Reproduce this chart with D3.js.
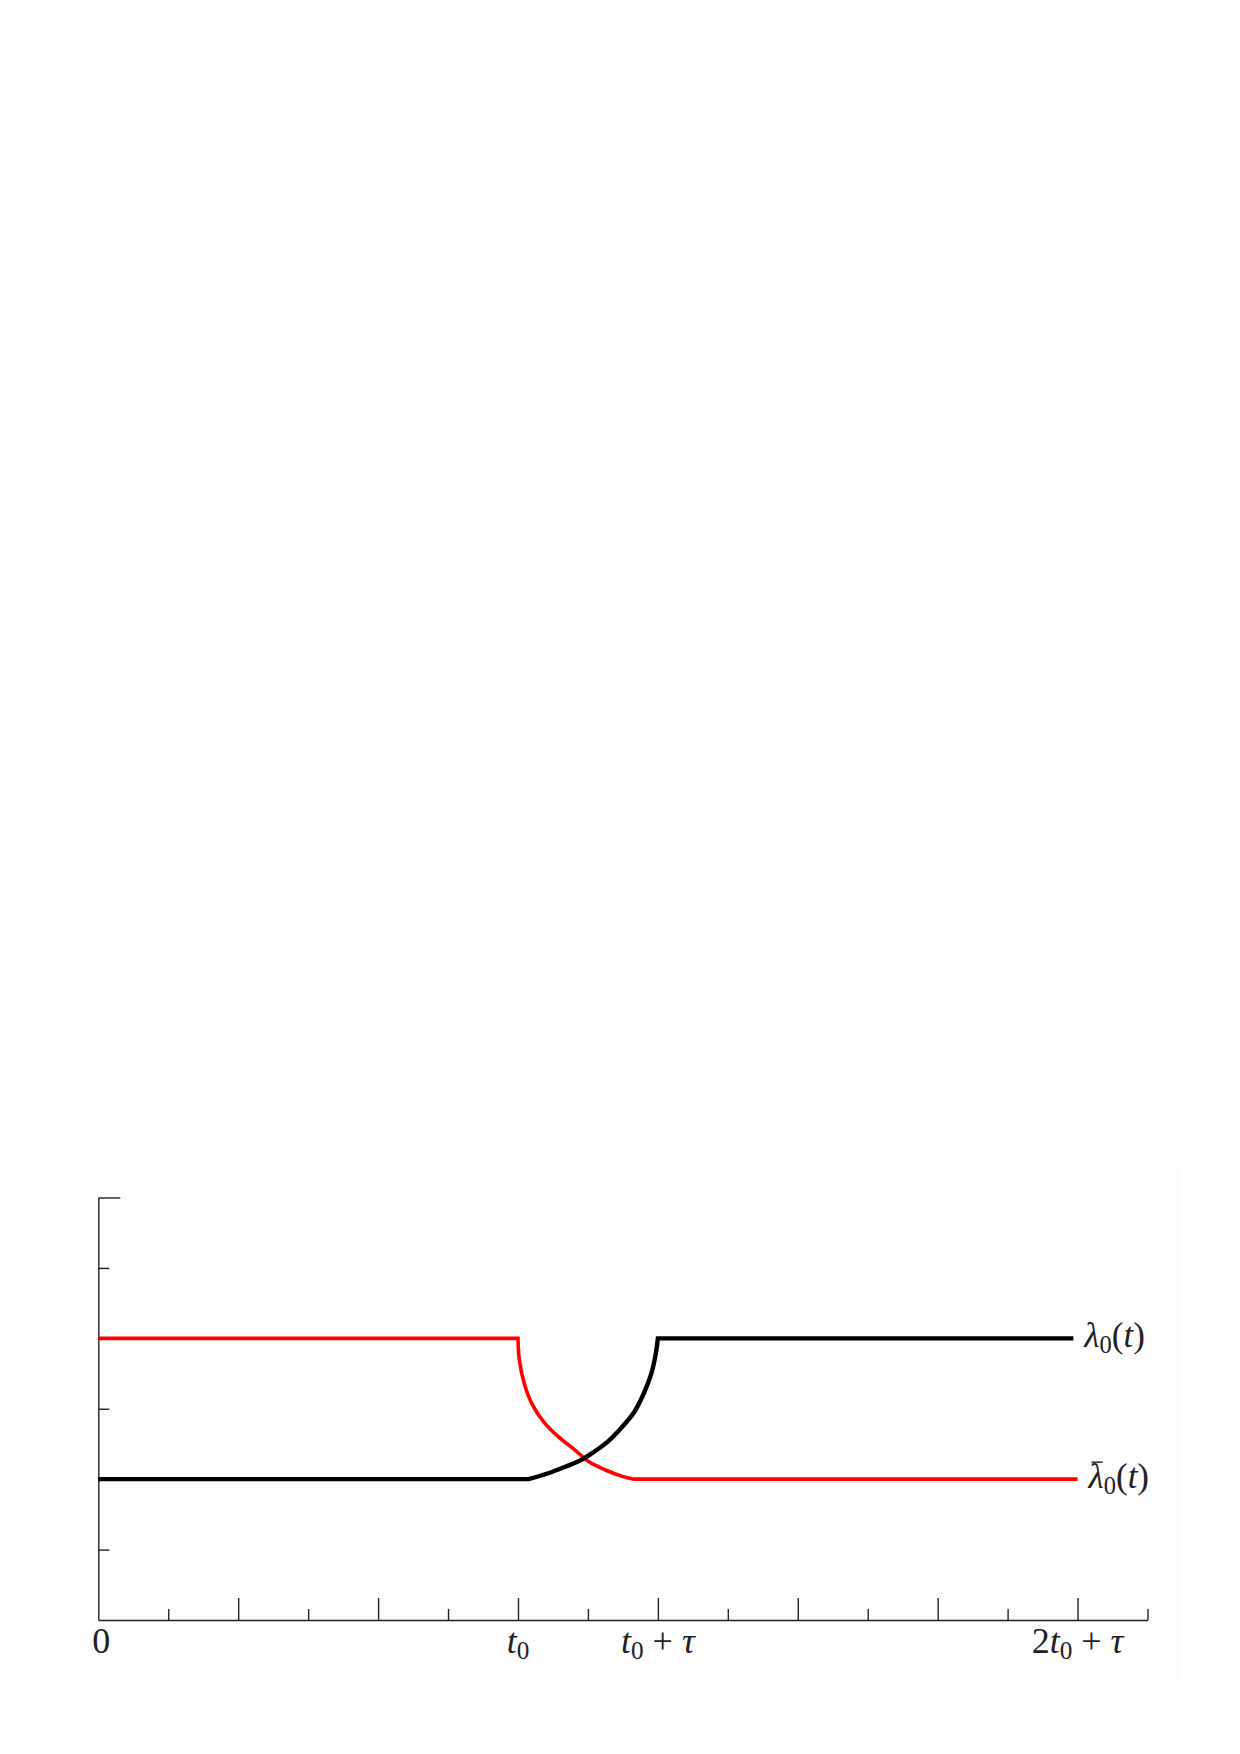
<!DOCTYPE html>
<html>
<head>
<meta charset="utf-8">
<script src="https://cdn.jsdelivr.net/npm/d3@7"></script>
<style>
  body { margin: 0; background: #fff; }
  svg text { font-family: "Liberation Serif", "DejaVu Serif", serif; fill: #222; }
</style>
</head>
<body>
<div id="diagram"></div>
<script>
// time axis runs in "units", t0 = 6 and tau = 2 of them
var xMinorTicks = [1, 3, 5, 7, 9, 11, 13, 15];
var xMajorTicks = [2, 4, 6, 8, 10, 12, 14];
var yTicks = [1, 2, 3, 4, 5];
var yTopTick = [6];

// labels under the axis: value + the pieces of the formula
var xLabelValues = [0, 6, 8, 14];
var xLabelParts = [
  [["0", "n"]],
  [["t", "i"], ["0", "s"]],
  [["t", "i"], ["0", "s"], [" + ", "n"], ["τ", "i"]],
  [["2", "n"], ["t", "i"], ["0", "s"], [" + ", "n"], ["τ", "i"]]
];

// lambda_0(t), black one
var lambdaT = [0, 6.15, 6.42, 6.66, 6.9, 7.09, 7.28, 7.47, 7.66, 7.8, 7.9, 7.97, 8, 13.94];
var lambdaV = [2, 2, 2.08, 2.17, 2.27, 2.39, 2.53, 2.72, 2.95, 3.22, 3.48, 3.78, 4, 4];

// lambda bar, red one
var lambdaBarT = [0, 6, 6.02, 6.09, 6.2, 6.37, 6.58, 6.82, 7.01, 7.25, 7.49, 7.66, 14.0];
var lambdaBarV = [4, 4, 3.69, 3.36, 3.07, 2.81, 2.6, 2.41, 2.25, 2.13, 2.04, 2, 2];

var svg = d3.select("#diagram")
  .append("svg")
    .attr("width", 1240)
    .attr("height", 1754)

// the scan has a very faint grey patch behind the plot
svg.append("rect")
    .attr("x", 90).attr("y", 1165)
    .attr("width", 1090).attr("height", 515)
    .style("fill", "#fdfdfd")

var x = d3.scaleLinear().domain([0, 15]).range([98.3, 1147.5])
var y = d3.scaleLinear().domain([0, 6]).range([1620, 1197.5])

// x axis, minor ticks first (with the domain line), then the long ones
svg.append("g")
    .attr("class", "axis")
    .attr("transform", "translate(0," + y(0) + ")")
    .call(d3.axisBottom(x).tickValues(xMinorTicks).tickSizeInner(-11).tickSizeOuter(0).tickFormat(""))
svg.append("g")
    .attr("class", "axis nodomain")
    .attr("transform", "translate(0," + y(0) + ")")
    .call(d3.axisBottom(x).tickValues(xMajorTicks).tickSizeInner(-22).tickSizeOuter(0).tickFormat(""))

// y axis
svg.append("g")
    .attr("class", "axis")
    .attr("transform", "translate(" + x(0) + ",0)")
    .call(d3.axisLeft(y).tickValues(yTicks).tickSizeInner(-11).tickSizeOuter(0).tickFormat(""))
svg.append("g")
    .attr("class", "axis nodomain")
    .attr("transform", "translate(" + x(0) + ",0)")
    .call(d3.axisLeft(y).tickValues(yTopTick).tickSizeInner(-22).tickSizeOuter(0).tickFormat(""))

svg.selectAll(".nodomain .domain").remove()
svg.selectAll(".axis path, .axis line")
    .style("stroke", "#222")
    .style("stroke-width", 1.4)

// builds a little formula out of tspans (italic / subscript)
function formula(sel, parts, size) {
  var sub = false
  parts.forEach(function(p) {
    var t = sel.append("tspan").text(p[0])
    if (p[1] == "i") t.style("font-style", "italic")
    if (p[1] == "s") {
      t.style("font-size", (size * 0.7) + "px").attr("dy", size * 0.16)
      sub = true
    } else if (sub) {
      // come back to the baseline after a subscript
      t.attr("dy", -size * 0.16)
      sub = false
    }
  })
}

xLabelValues.forEach(function(v, i) {
  var txt = svg.append("text")
      .attr("x", x(v) + (v == 0 ? 3 : 0))
      .attr("y", 1653)
      .style("font-size", "36px")
      .style("text-anchor", "middle")
  formula(txt, xLabelParts[i], 36)
})

// the two curves: flat bits straight, the bend in the middle smooth
var flat = d3.line()
    .x(function(d) { return x(d[0]) })
    .y(function(d) { return y(d[1]) })
var bend = d3.line()
    .x(function(d) { return x(d[0]) })
    .y(function(d) { return y(d[1]) })
    .curve(d3.curveCatmullRom.alpha(0.5))

function stepPath(pts) {
  var n = pts.length
  return flat(pts.slice(0, 2)) +
    bend(pts.slice(1, n - 1)).replace(/^M/, "L") +
    flat(pts.slice(n - 2)).replace(/^M/, "L")
}

var lambdaPts = lambdaT.map(function(t, i) { return [t, lambdaV[i]] })
var lambdaBarPts = lambdaBarT.map(function(t, i) { return [t, lambdaBarV[i]] })

svg.append("path")
    .attr("d", stepPath(lambdaBarPts))
    .style("fill", "none")
    .style("stroke", "#f00")
    .style("stroke-width", 3.6)

svg.append("path")
    .attr("d", stepPath(lambdaPts))
    .style("fill", "none")
    .style("stroke", "#000")
    .style("stroke-width", 4.4)

// labels at the right end of each line
var lab1 = svg.append("text")
    .attr("x", x(lambdaT[lambdaT.length - 1]) + 11)
    .attr("y", y(4) + 9)
    .style("font-size", "35px")
formula(lab1, [["λ", "i"], ["0", "s"], ["(", "n"], ["t", "i"], [")", "n"]], 35)

var lab2 = svg.append("text")
    .attr("x", x(lambdaBarT[lambdaBarT.length - 1]) + 11)
    .attr("y", y(2) + 9)
    .style("font-size", "35px")
formula(lab2, [["λ", "i"], ["0", "s"], ["(", "n"], ["t", "i"], [")", "n"]], 35)

// the bar over the second lambda
var box = lab2.node().getExtentOfChar(0)
svg.append("line")
    .attr("x1", box.x + 3).attr("x2", box.x + box.width - 1)
    .attr("y1", y(2) - 17).attr("y2", y(2) - 17)
    .style("stroke", "#222")
    .style("stroke-width", 1.4)
</script>
</body>
</html>
